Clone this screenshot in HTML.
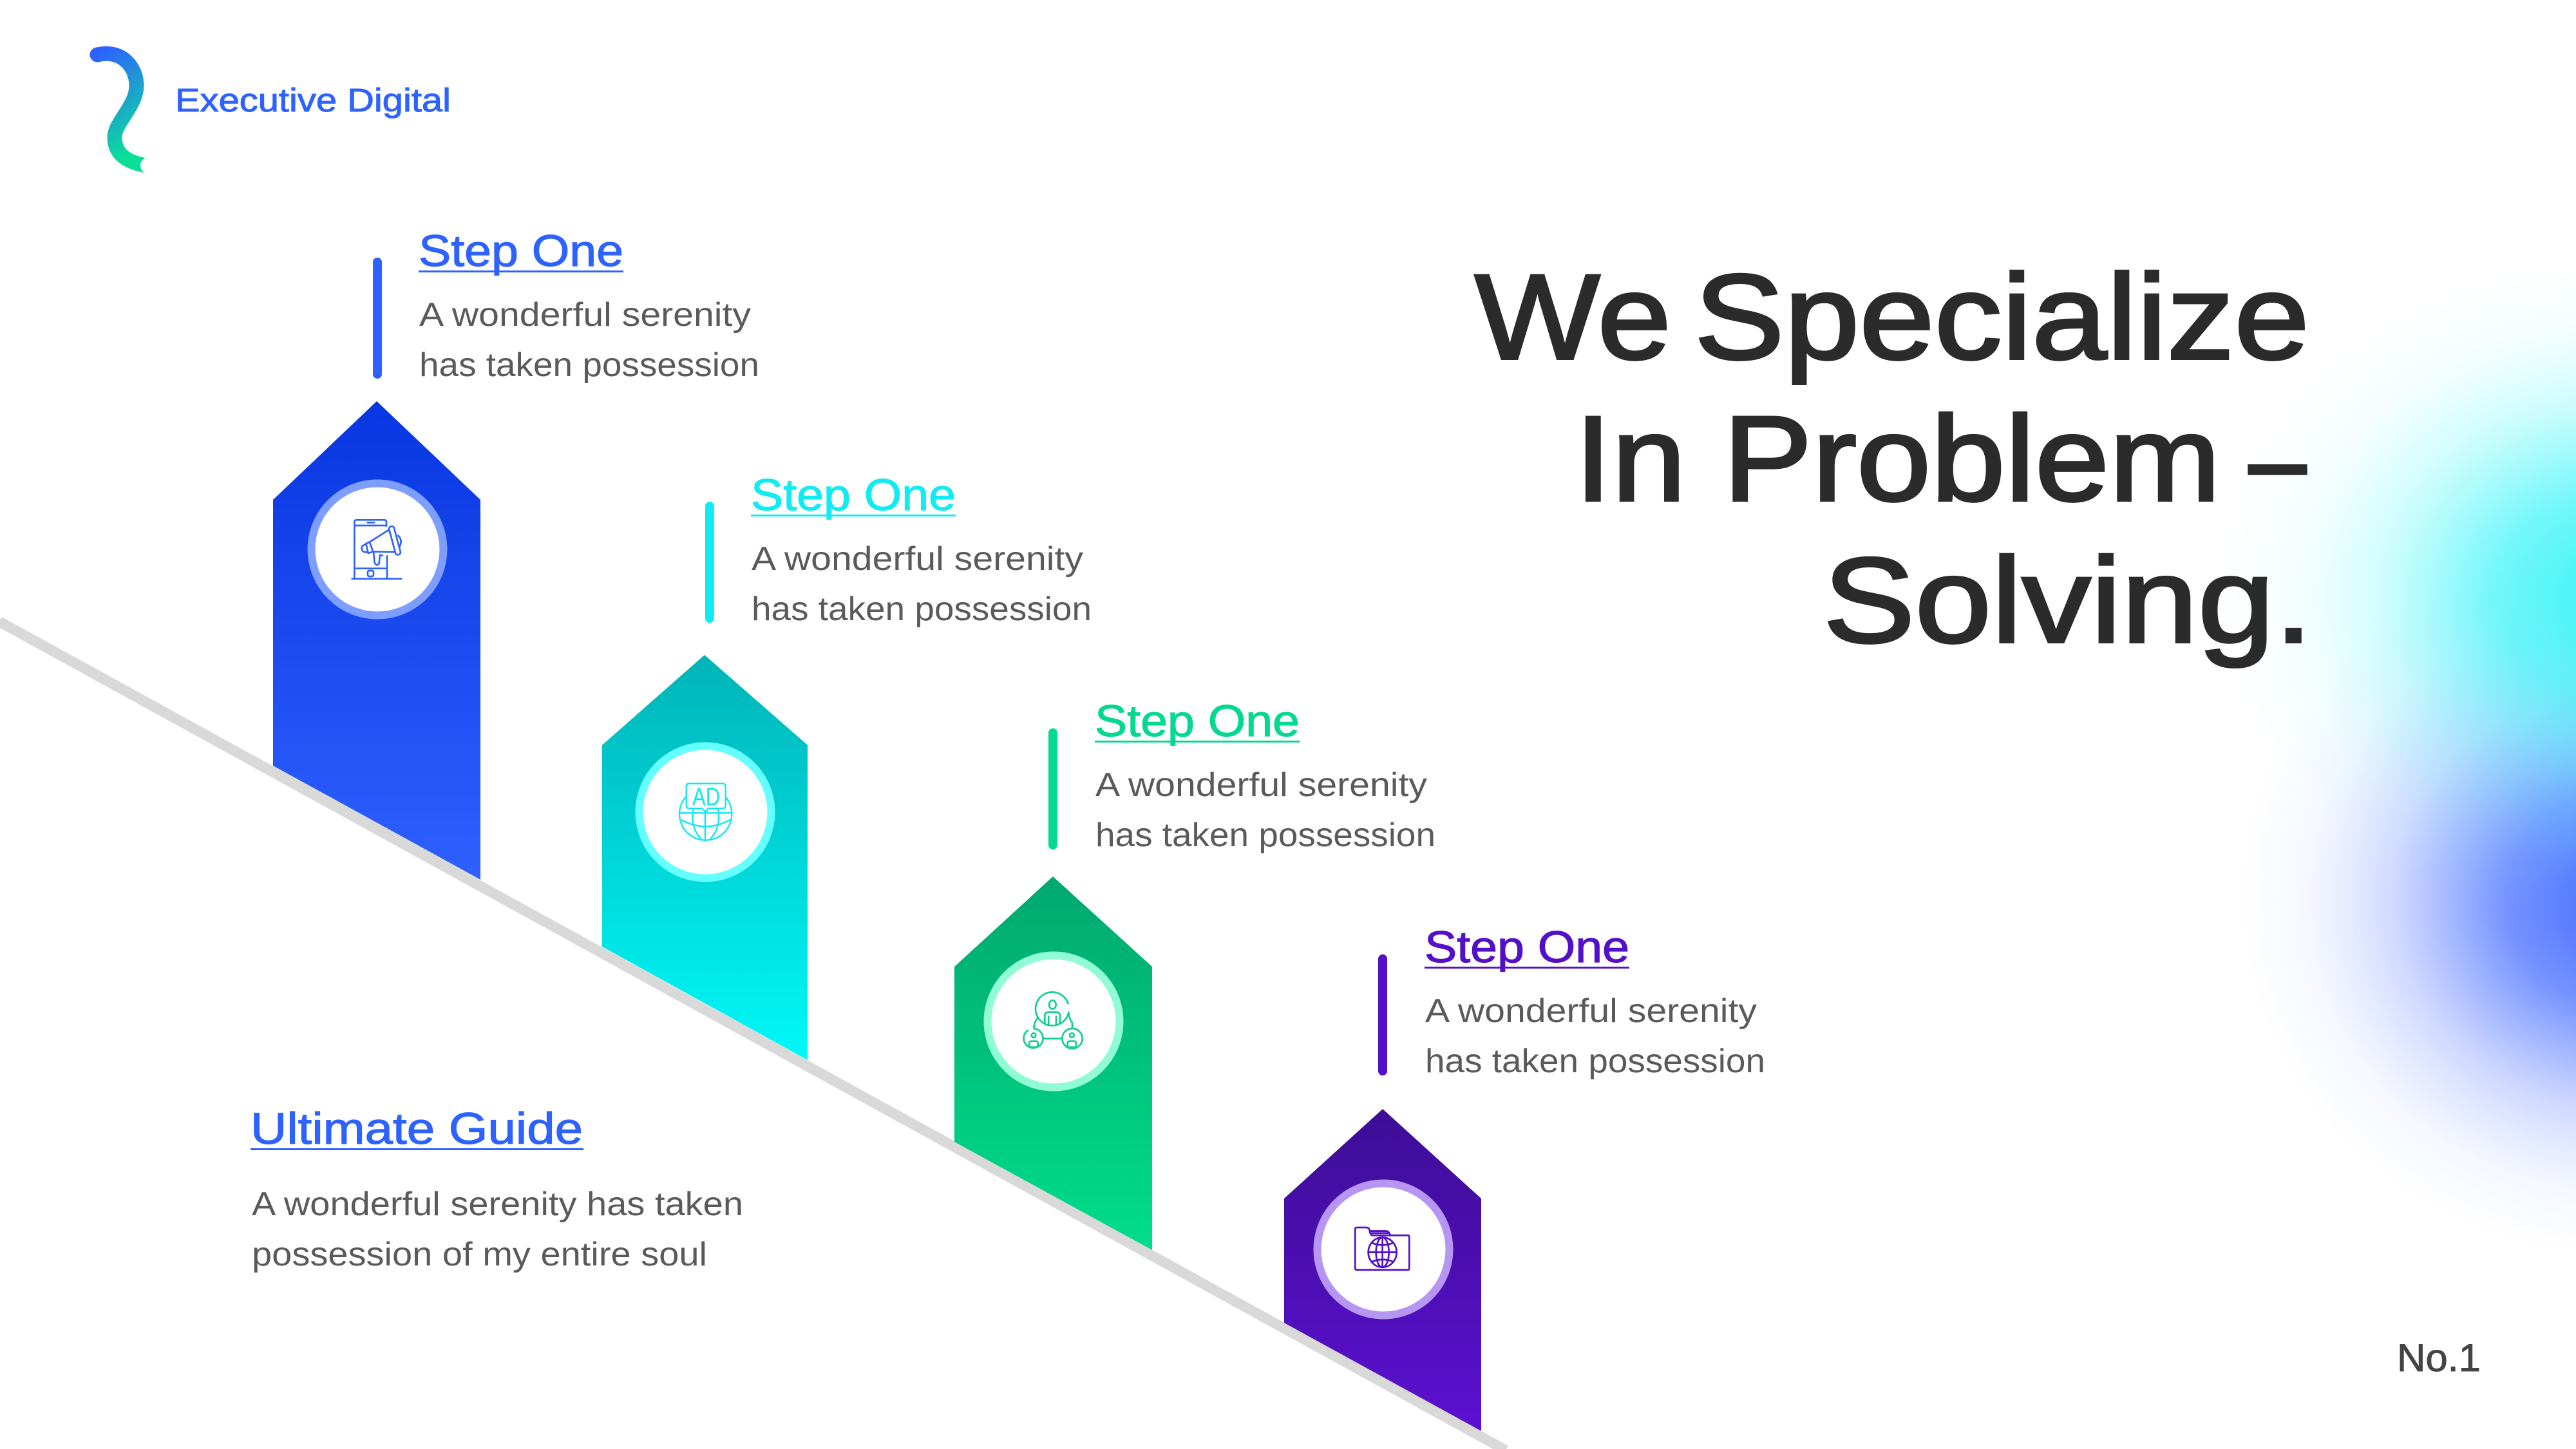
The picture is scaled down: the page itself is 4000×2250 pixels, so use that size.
<!DOCTYPE html>
<html lang="en">
<head>
<meta charset="utf-8">
<title>We Specialize In Problem-Solving</title>
<style>
html,body{margin:0;padding:0;background:#fff;width:4000px;height:2250px;overflow:hidden}
svg{display:block}
text{font-family:"Liberation Sans",sans-serif}
.h{font-size:69px;stroke-width:1.2px}
.d{font-size:52px;fill:#5a5a5a}
.t{font-size:188px;fill:#2b2b2b;stroke:#2b2b2b;stroke-width:4px}
</style>
</head>
<body>
<svg xmlns="http://www.w3.org/2000/svg" width="4000" height="2250" viewBox="0 0 4000 2250">
<defs>
<linearGradient id="logoG" x1="0" y1="0" x2="0.3" y2="1"><stop offset="0" stop-color="#2e62ff"/><stop offset="1" stop-color="#0adf9a"/></linearGradient>
<linearGradient id="p1" x1="0" y1="0" x2="0" y2="1"><stop offset="0" stop-color="#0836e0"/><stop offset="1" stop-color="#2e60ff"/></linearGradient>
<linearGradient id="p2" x1="0" y1="0" x2="0" y2="1"><stop offset="0" stop-color="#00b4b8"/><stop offset="1" stop-color="#00f8f8"/></linearGradient>
<linearGradient id="p3" x1="0" y1="0" x2="0" y2="1"><stop offset="0" stop-color="#00a86f"/><stop offset="1" stop-color="#00dd8b"/></linearGradient>
<linearGradient id="p4" x1="0" y1="0" x2="0" y2="1"><stop offset="0" stop-color="#3d0d96"/><stop offset="1" stop-color="#5b10d0"/></linearGradient>
<radialGradient id="blobB"><stop offset="0" stop-color="#3f68ff" stop-opacity="1"/><stop offset=".3" stop-color="#3f68ff" stop-opacity=".72"/><stop offset=".6" stop-color="#4a70ff" stop-opacity=".26"/><stop offset=".82" stop-color="#5a80ff" stop-opacity=".06"/><stop offset="1" stop-color="#5a80ff" stop-opacity="0"/></radialGradient>
<radialGradient id="blobC"><stop offset="0" stop-color="#3cf4f8" stop-opacity="1"/><stop offset=".3" stop-color="#3cf4f8" stop-opacity=".72"/><stop offset=".6" stop-color="#50f6f8" stop-opacity=".26"/><stop offset=".82" stop-color="#70f8f8" stop-opacity=".06"/><stop offset="1" stop-color="#70f8f8" stop-opacity="0"/></radialGradient>
</defs>

<!-- background glow -->
<ellipse cx="4070" cy="1395" rx="590" ry="555" fill="url(#blobB)"/>
<ellipse cx="4060" cy="925" rx="610" ry="520" fill="url(#blobC)"/>

<!-- logo -->
<path d="M151,85 C190,76 212,105 212,133 C212,165 178,190 178,213 C178,240 198,252 227,257" fill="none" stroke="url(#logoG)" stroke-width="23" stroke-linecap="round"/>
<ellipse cx="229" cy="257" rx="11" ry="12" fill="#fff"/>
<text x="272" y="173" font-size="51" fill="#2e62ff" stroke="#2e62ff" stroke-width="1" textLength="428" lengthAdjust="spacingAndGlyphs">Executive Digital</text>

<!-- diagonal -->
<polygon points="3,958 2342,2245 2339,2250 2318,2250 0,975 0,962" fill="#d9d9d9"/>

<!-- pentagons -->
<polygon points="585,623 746,776 746,1366 424,1189 424,776" fill="url(#p1)"/>
<polygon points="1094,1017 1254,1157 1254,1646 935,1470 935,1157" fill="url(#p2)"/>
<polygon points="1635,1361 1789,1501 1789,1941 1482,1773 1482,1501" fill="url(#p3)"/>
<polygon points="2147,1722 2300,1861 2300,2222 1994,2054 1994,1861" fill="url(#p4)"/>

<!-- circles -->
<circle cx="586" cy="853" r="102.5" fill="#fff" stroke="#7d9dff" stroke-width="12"/>
<circle cx="1095" cy="1261" r="102.5" fill="#fff" stroke="#66ffff" stroke-width="12"/>
<circle cx="1636" cy="1586" r="102.5" fill="#fff" stroke="#90fbd5" stroke-width="12"/>
<circle cx="2148" cy="1940" r="102.5" fill="#fff" stroke="#b795f2" stroke-width="12"/>

<!-- icon 1 -->
<g transform="translate(400,600) scale(.33333)" fill="none" stroke="#2e62ff" stroke-width="8" stroke-linecap="round" stroke-linejoin="round">
<path d="M600,650 V632 Q600,622 590,622 H462 Q451,622 451,632 V895"/>
<path d="M603,790 V895"/><path d="M451,648 H600"/><path d="M451,848 H600"/><path d="M512,634 H543"/>
<rect x="513" y="858" width="27" height="27" rx="7"/><path d="M440,896 H670"/>
<path d="M655,695 Q678,718 660,748"/>
<path d="M540,772 L545,822 Q555,840 566,825 L570,785" fill="#fff"/><path d="M575,787 H582"/>
<path d="M522,725 L612,668 L645,772 L538,770 Z" fill="#fff"/>
<path d="M522,725 L505,732 L515,777 L538,770"/>
<path d="M505,735 L490,742 Q482,748 486,760 Q490,775 512,772"/>
<rect x="627" y="650" width="24" height="136" rx="11" transform="rotate(-15 639 718)" fill="#fff"/>
</g>

<!-- icon 2 -->
<g transform="translate(920,1000) scale(.33333)" fill="none" stroke="#0ee8f0" stroke-width="7" stroke-linecap="round" stroke-linejoin="round">
<circle cx="527" cy="792" r="122"/>
<path d="M405,787 H650"/><path d="M415,820 Q527,880 640,820"/><path d="M525,780 V915"/>
<path d="M470,770 Q455,860 510,912"/><path d="M585,770 Q600,860 545,912"/>
<path d="M451,650 H606 Q620,650 620,664 V752 Q620,766 606,766 H540 L525,782 L512,766 H451 Q437,766 437,752 V664 Q437,650 451,650 Z" fill="#fff"/>
<text x="465" y="752" font-size="118" fill="#0ee8f0" stroke="none" textLength="130" lengthAdjust="spacingAndGlyphs">AD</text>
</g>

<!-- icon 3 -->
<g transform="translate(1460,1340) scale(.33333)" fill="none" stroke="#0fd08c" stroke-width="8" stroke-linecap="round" stroke-linejoin="round">
<path d="M596,655 A78,78 0 1 0 598,697"/>
<ellipse cx="523" cy="660" rx="16" ry="20"/>
<path d="M487,745 V712 Q487,695 505,695 H540 Q558,695 558,712 V745"/><path d="M505,715 V755"/><path d="M540,715 V755"/>
<path d="M455,720 Q435,745 437,770"/><path d="M598,695 Q600,725 615,745 V770"/>
<path d="M408,780 A45,45 0 1 0 437,772 "/>
<circle cx="615" cy="818" r="47"/>
<path d="M485,818 H567"/>
<circle cx="435" cy="803" r="10"/><rect x="415" y="830" width="40" height="28" rx="8"/>
<circle cx="613" cy="803" r="10"/><rect x="593" y="830" width="40" height="28" rx="8"/>
</g>

<!-- icon 4 -->
<g transform="translate(1960,1700) scale(.33333,.35088)" fill="none" stroke="#5310c8" stroke-width="8" stroke-linecap="round" stroke-linejoin="round">
<path d="M433,768 V595 Q433,587 441,587 H485 Q497,587 500,600 Q503,622 515,622 H678 Q685,622 685,628 V768 Q685,775 678,775 H440 Q433,775 433,768 Z"/>
<path d="M503,603 H580 Q592,605 596,622"/><path d="M510,612 H585"/>
<circle cx="560" cy="697" r="66" fill="#fff"/>
<ellipse cx="560" cy="697" rx="30" ry="66"/>
<path d="M560,631 V763"/><path d="M494,697 H626"/>
<path d="M510,655 Q560,675 610,655"/><path d="M510,739 Q560,719 610,739"/>
</g>

<!-- title -->
<text class="t" x="2290" y="557" textLength="305" lengthAdjust="spacingAndGlyphs">We</text>
<text class="t" x="2631" y="557" textLength="955" lengthAdjust="spacingAndGlyphs">Specialize</text>
<text class="t" x="2445" y="777" textLength="1003" lengthAdjust="spacingAndGlyphs">In Problem</text>
<text class="t" x="3492" y="777" textLength="89" lengthAdjust="spacingAndGlyphs" style="stroke-width:4px">–</text>
<text class="t" x="2831" y="997" textLength="760" lengthAdjust="spacingAndGlyphs">Solving.</text>

<!-- step 1 -->
<rect x="579" y="400" width="14" height="188" rx="7" fill="#2e62ff"/>
<text class="h" x="650" y="413" fill="#2e62ff" stroke="#2e62ff" textLength="318" lengthAdjust="spacingAndGlyphs">Step One</text>
<rect x="650" y="420" width="318" height="3" fill="#2e62ff"/>
<text class="d" x="651" y="506" textLength="515" lengthAdjust="spacingAndGlyphs">A wonderful serenity</text>
<text class="d" x="651" y="584" textLength="528" lengthAdjust="spacingAndGlyphs">has taken possession</text>

<!-- step 2 -->
<rect x="1095" y="779" width="14" height="188" rx="7" fill="#10ecf2"/>
<text class="h" x="1166" y="792" fill="#10ecf2" stroke="#10ecf2" textLength="318" lengthAdjust="spacingAndGlyphs">Step One</text>
<rect x="1166" y="799" width="318" height="3" fill="#10ecf2"/>
<text class="d" x="1167" y="885" textLength="515" lengthAdjust="spacingAndGlyphs">A wonderful serenity</text>
<text class="d" x="1167" y="963" textLength="528" lengthAdjust="spacingAndGlyphs">has taken possession</text>

<!-- step 3 -->
<rect x="1628" y="1131" width="14" height="188" rx="7" fill="#05d890"/>
<text class="h" x="1700" y="1143" fill="#05d890" stroke="#05d890" textLength="318" lengthAdjust="spacingAndGlyphs">Step One</text>
<rect x="1700" y="1150" width="318" height="3" fill="#05d890"/>
<text class="d" x="1701" y="1236" textLength="515" lengthAdjust="spacingAndGlyphs">A wonderful serenity</text>
<text class="d" x="1701" y="1314" textLength="528" lengthAdjust="spacingAndGlyphs">has taken possession</text>

<!-- step 4 -->
<rect x="2140" y="1482" width="14" height="188" rx="7" fill="#5310c8"/>
<text class="h" x="2212" y="1494" fill="#5310c8" stroke="#5310c8" textLength="318" lengthAdjust="spacingAndGlyphs">Step One</text>
<rect x="2212" y="1501" width="318" height="3" fill="#5310c8"/>
<text class="d" x="2213" y="1587" textLength="515" lengthAdjust="spacingAndGlyphs">A wonderful serenity</text>
<text class="d" x="2213" y="1665" textLength="528" lengthAdjust="spacingAndGlyphs">has taken possession</text>

<!-- ultimate guide -->
<text class="h" x="389" y="1776" fill="#2e62ff" stroke="#2e62ff" textLength="516" lengthAdjust="spacingAndGlyphs">Ultimate Guide</text>
<rect x="389" y="1783" width="517" height="3" fill="#2e62ff"/>
<text class="d" x="391" y="1887" textLength="763" lengthAdjust="spacingAndGlyphs">A wonderful serenity has taken</text>
<text class="d" x="391" y="1965" textLength="707" lengthAdjust="spacingAndGlyphs">possession of my entire soul</text>

<!-- page no -->
<text x="3722" y="2129" font-size="60" fill="#444" stroke="#444" stroke-width="1" textLength="130" lengthAdjust="spacingAndGlyphs">No.1</text>
</svg>
</body>
</html>
